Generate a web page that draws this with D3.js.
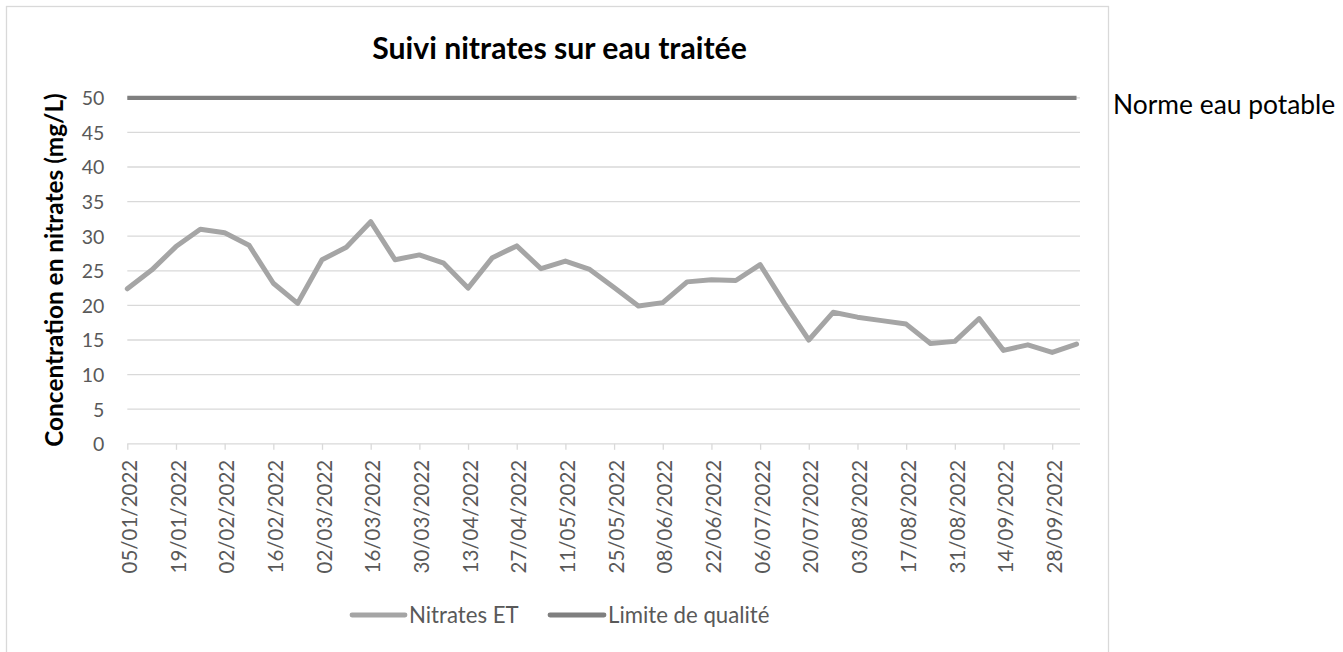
<!DOCTYPE html>
<html>
<head>
<meta charset="utf-8">
<script src="https://cdn.jsdelivr.net/npm/d3@7"></script>
<style>
  html, body { margin: 0; padding: 0; background: #fff; }
  svg { display: block; }
  text { font-family: Lato, "Open Sans", sans-serif; }
</style>
</head>
<body>
<svg id="chart" width="1343" height="652"></svg>
<script>
// ---- data ----
const sampleDates = [
  "05/01/2022","12/01/2022","19/01/2022","26/01/2022","02/02/2022","09/02/2022","16/02/2022","23/02/2022",
  "02/03/2022","09/03/2022","16/03/2022","23/03/2022","30/03/2022","06/04/2022","13/04/2022","20/04/2022",
  "27/04/2022","04/05/2022","11/05/2022","18/05/2022","25/05/2022","01/06/2022","08/06/2022","15/06/2022",
  "22/06/2022","29/06/2022","06/07/2022","13/07/2022","20/07/2022","27/07/2022","03/08/2022","10/08/2022",
  "17/08/2022","24/08/2022","31/08/2022","07/09/2022","14/09/2022","21/09/2022","28/09/2022","05/10/2022"
];
const nitratesET = [
  22.4, 25.1, 28.5, 31.0, 30.5, 28.7, 23.2, 20.3,
  26.6, 28.4, 32.1, 26.6, 27.3, 26.1, 22.5, 26.9,
  28.6, 25.3, 26.4, 25.2, 22.6, 19.9, 20.4, 23.4,
  23.7, 23.6, 25.9, 20.3, 15.0, 19.0, 18.3, 17.8,
  17.3, 14.5, 14.8, 18.1, 13.5, 14.3, 13.2, 14.4
];
const limiteQualite = sampleDates.map(() => 50);
const yTicks = [0, 5, 10, 15, 20, 25, 30, 35, 40, 45, 50];
const xAxisStart = "05/01/2022";
const xAxisEnd = "06/10/2022";
const xTickStepDays = 14;
const seriesNames = ["Nitrates ET", "Limite de qualité"];
const titleText = "Suivi nitrates sur eau traitée";
const yTitleText = "Concentration en nitrates (mg/L)";
const annotationText = "Norme eau potable";

// ---- layout ----
const parse = d3.timeParse("%d/%m/%Y");
const fmt = d3.timeFormat("%d/%m/%Y");
const svg = d3.select("#chart");
const plot = { left: 127.3, right: 1080, top: 97.8, bottom: 443.8 };

const x = d3.scaleTime().domain([parse(xAxisStart), parse(xAxisEnd)]).range([plot.left, plot.right]);
const y = d3.scaleLinear().domain([0, 50]).range([plot.bottom, plot.top]);

// chart border
svg.append("rect").attr("x", 6.5).attr("y", 6.5).attr("width", 1102).attr("height", 700)
  .attr("fill", "none").attr("stroke", "#d9d9d9").attr("stroke-width", 1.3);

// title
svg.append("text").attr("x", 559.5).attr("y", 58.5).attr("text-anchor", "middle")
  .style("font-size", "30.2px").style("font-weight", "bold").attr("fill", "#000").text(titleText);

// gridlines
svg.append("g").selectAll("line").data(yTicks.filter(d => d > 0)).join("line")
  .attr("x1", plot.left).attr("x2", plot.right)
  .attr("y1", d => y(d)).attr("y2", d => y(d))
  .attr("stroke", "#d9d9d9").attr("stroke-width", 1.3);

// y axis labels
const yAxis = d3.axisLeft(y).tickValues(yTicks).tickSize(0).tickPadding(0);
const gy = svg.append("g").attr("transform", `translate(${plot.left - 23},0)`).call(yAxis);
gy.select(".domain").remove();
gy.selectAll("text").style("font-size", "19.5px").attr("fill", "#595959")
  .style("font-family", "Lato, sans-serif").attr("dy", "0.35em");

// x axis
const xTickDates = d3.timeDay.every(1).range(parse(xAxisStart), d3.timeDay.offset(parse(xAxisEnd), 1))
  .filter((d, i) => i % xTickStepDays === 0);
const xAxis = d3.axisBottom(x).tickValues(xTickDates).tickFormat(fmt).tickSize(6).tickPadding(0);
const gx = svg.append("g").attr("transform", `translate(0,${plot.bottom})`).call(xAxis);
gx.select(".domain").attr("stroke", "#d9d9d9").attr("stroke-width", 1.3).attr("d", `M${plot.left},0H${plot.right}`);
gx.selectAll(".tick line").attr("stroke", "#d9d9d9").attr("stroke-width", 1.3);
gx.selectAll("text")
  .style("font-size", "20.5px").style("font-family", "Lato, sans-serif").attr("fill", "#595959")
  .attr("text-anchor", "end").attr("transform", "rotate(-90)")
  .attr("x", -16).attr("y", 2).attr("dy", "0.35em");

// lines
const dates = sampleDates.map(parse);
const lineGen = d3.line().x((d, i) => x(dates[i])).y(d => y(d));
svg.append("path").datum(limiteQualite).attr("d", lineGen)
  .attr("fill", "none").attr("stroke", "#7f7f7f").attr("stroke-width", 4.2).attr("stroke-linejoin", "round");
svg.append("path").datum(nitratesET).attr("d", lineGen)
  .attr("fill", "none").attr("stroke", "#a5a5a5").attr("stroke-width", 5)
  .attr("stroke-linejoin", "round").attr("stroke-linecap", "round");

// y title
svg.append("text").attr("transform", "translate(63,270) rotate(-90)").attr("text-anchor", "middle")
  .style("font-size", "24.4px").style("font-weight", "bold").attr("fill", "#000").text(yTitleText);

// legend
const legend = [
  { name: seriesNames[0], color: "#a5a5a5", x1: 352, x2: 405 },
  { name: seriesNames[1], color: "#7f7f7f", x1: 550, x2: 604 }
];
const lg = svg.append("g");
legend.forEach(l => {
  lg.append("line").attr("x1", l.x1).attr("x2", l.x2).attr("y1", 615).attr("y2", 615)
    .attr("stroke", l.color).attr("stroke-width", 4.8).attr("stroke-linecap", "round");
  lg.append("text").attr("x", l.x2 + 4).attr("y", 615).attr("dy", "0.35em")
    .style("font-size", "22.2px").attr("fill", "#595959").text(l.name);
});

// annotation
svg.append("text").attr("x", 1113).attr("y", 105).attr("dy", "0.35em")
  .style("font-size", "26.4px").attr("fill", "#000").text(annotationText);
</script>
</body>
</html>
